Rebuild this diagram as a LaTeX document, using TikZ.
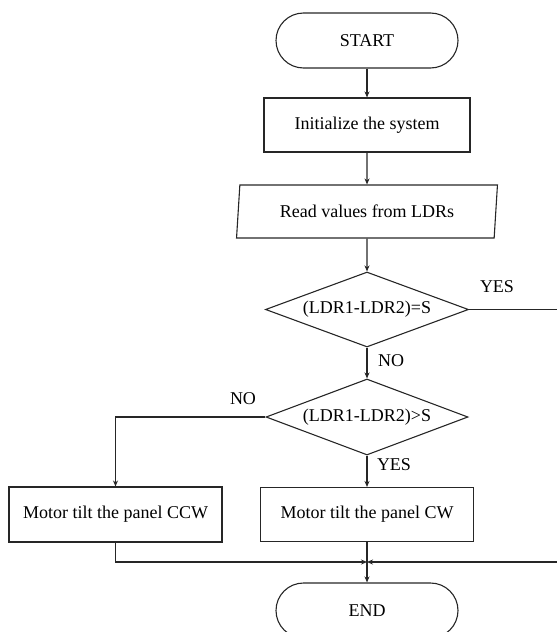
\documentclass[tikz,border=0pt]{standalone}
\usepackage{fontspec}
\setmainfont{Liberation Serif}
\usetikzlibrary{shapes.geometric,shapes.misc,arrows.meta}
\begin{document}
\begin{tikzpicture}[x=1pt,y=-1pt,
  font=\fontsize{18}{21}\selectfont,
  every node/.style={text=black},
  line/.style={draw=black!85,line width=1.1pt},
  arr/.style={line,-{Stealth[length=6pt,width=5pt]}},
  term/.style={line,rounded rectangle,minimum width=182pt,minimum height=55pt,inner sep=0pt},
  proc/.style={line,rectangle,minimum width=213pt,minimum height=54pt,inner sep=0pt},
  io/.style={line,trapezium,trapezium left angle=80,trapezium right angle=100,trapezium stretches=true,minimum width=261pt,minimum height=53pt,inner sep=0pt},
  dec/.style={line,diamond,aspect=2.7,minimum width=202pt,minimum height=76pt,inner sep=0pt},
  lab/.style={inner sep=0pt}
]
\useasboundingbox (0,0) rectangle (557,632);
\node[term] (start) at (367,40.5) {START};
\node[proc,minimum width=206pt] (init) at (367,125) {Initialize the system};
\node[io] (read) at (367,211.5) {Read values from LDRs};
\node[dec,minimum width=203pt,minimum height=75pt] (d1) at (367,309.5) {(LDR1-LDR2)=S};
\node[dec] (d2) at (367,417) {(LDR1-LDR2)>S};
\node[proc] (cw) at (367,514.5) {Motor tilt the panel CW};
\node[proc,minimum height=55pt] (ccw) at (115.5,514.5) {Motor tilt the panel CCW};
\node[term] (end) at (367,610.5) {END};
\coordinate (m) at (367,562);
\coordinate (rr) at (562,562);

\draw[arr] (start.south) -- (init.north);
\draw[arr] (init.south) -- (read.north);
\draw[arr] (read.south) -- (d1.north);
\draw[arr] (d1.south) -- (d2.north);
\draw[arr] (d2.south) -- (cw.north);
\draw[arr] (d2.west) -| (ccw.north);
\draw[arr] (ccw.south) |- (m);
\draw[arr] (cw.south) -- (end.north);
\draw[arr] (d1.east) -| (rr) -- (m);

\node[lab] (yes1) at (497,287) {YES};
\node[lab] (no1) at (391,361) {NO};
\node[lab] (no2) at (243,399) {NO};
\node[lab] (yes2) at (394,465) {YES};
\end{tikzpicture}
\end{document}
